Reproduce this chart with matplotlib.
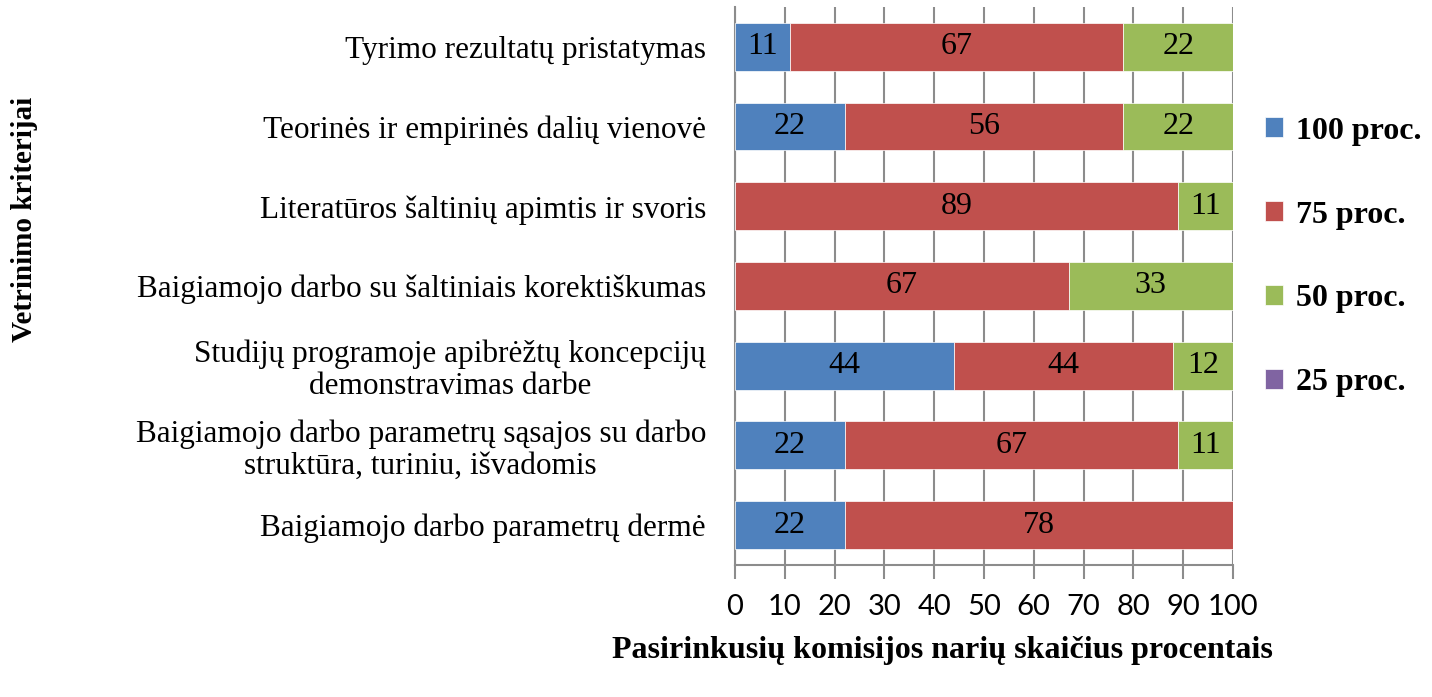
import matplotlib
matplotlib.use('Agg')
import matplotlib.pyplot as plt
import numpy as np

categories = [
    "Tyrimo rezultatų pristatymas",
    "Teorinės ir empirinės dalių vienovė",
    "Literatūros šaltinių apimtis ir svoris",
    "Baigiamojo darbo su šaltiniais korektiškumas",
    "Studijų programoje apibrėžtų koncepcijų\ndemonstravimas darbe",
    "Baigiamojo darbo parametrų sąsajos su darbo\nstruktūra, turiniu, išvadomis",
    "Baigiamojo darbo parametrų dermė",
]
series_names = ["100 proc.", "75 proc.", "50 proc.", "25 proc."]
p100 = [11, 22, 0, 0, 44, 22, 22]
p75 = [67, 56, 89, 67, 44, 67, 78]
p50 = [22, 22, 11, 33, 12, 11, 0]
p25 = [0, 0, 0, 0, 0, 0, 0]
colors = ['#4F81BD', '#C0504D', '#9BBB59', '#8064A2']

serif = 'Liberation Serif'

fig = plt.figure(figsize=(14.32, 6.97), dpi=100)
ax = fig.add_axes([0.5133, 0.1894, 0.3477, 0.8006])

y = np.arange(len(categories))
left = np.zeros(len(categories))
for name, vals, col in zip(series_names, [p100, p75, p50, p25], colors):
    vals = np.array(vals, dtype=float)
    bars = ax.barh(y, vals, left=left, height=0.6, color=col,
                   edgecolor='white', linewidth=0.5, label=name, zorder=3)
    for b, v in zip(bars, vals):
        if v > 0:
            ax.text(b.get_x() + b.get_width() / 2, b.get_y() + b.get_height() / 2,
                    f"{v:.0f}", ha='center', va='center', fontsize=23,
                    family=serif, color='black', zorder=4)
    left += vals

ax.set_xlim(0, 100)
ax.set_ylim(len(categories) - 0.5, -0.5)
ax.set_xticks(np.arange(0, 101, 10))
ax.set_yticks(y)
ax.set_yticklabels(categories, family=serif, fontsize=22.5,
                   multialignment='center', linespacing=1.1)
ax.tick_params(axis='y', length=0, pad=21)
ax.tick_params(axis='x', direction='out', length=10, width=1.5, color='#8C8C8C',
               labelsize=21, pad=11)
for lbl in ax.get_xticklabels():
    lbl.set_family('Lato')

ax.grid(axis='x', color='#8C8C8C', linewidth=1.5, zorder=0)
for s in ['top', 'right']:
    ax.spines[s].set_visible(False)
ax.spines['left'].set_color('#8C8C8C')
ax.spines['left'].set_linewidth(1.5)
ax.spines['bottom'].set_color('#8C8C8C')
ax.spines['bottom'].set_linewidth(1.5)

fig.text(0.658, 0.067, "Pasirinkusių komisijos narių skaičius procentais",
         ha='center', va='center', fontsize=23, fontweight='bold', family=serif)
fig.text(0.017, 0.685, "Vetrinimo kriterijai", rotation=90,
         ha='center', va='center', fontsize=21, fontweight='bold', family=serif)

leg = fig.legend(loc='upper left', bbox_to_anchor=(0.863, 0.874), frameon=False,
                 prop={'family': serif, 'weight': 'bold', 'size': 23},
                 handlelength=0.58, handleheight=0.58, handletextpad=0.4,
                 labelspacing=1.72)

fig.savefig('out.png', dpi=100)
